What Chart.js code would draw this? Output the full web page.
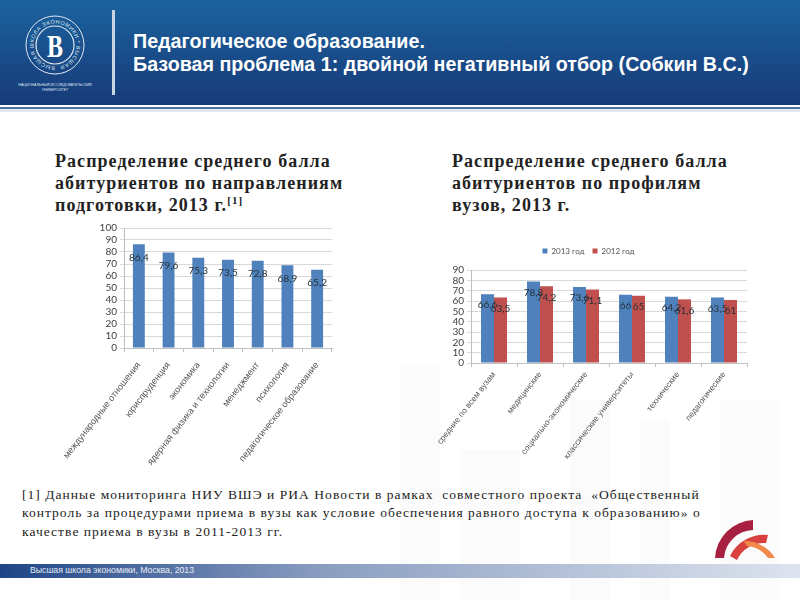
<!DOCTYPE html>
<html lang="ru">
<head>
<meta charset="utf-8">
<title>Педагогическое образование</title>
<script src="https://cdn.jsdelivr.net/npm/chart.js@4"></script>
<style>
  html, body { margin: 0; padding: 0; background: #fff; }
  #slide { position: relative; width: 800px; height: 600px; overflow: hidden; background: #fff; }
  #slide > * { position: absolute; }
  #watermark { left: 0; top: 0; }
  #header { left: 0; top: 0; width: 800px; height: 105px; background: linear-gradient(#1b639f, #173a78); }
  #rule1 { left: 0; top: 107px; width: 800px; height: 2px; background: #4f6f9f; }
  #rule2 { left: 0; top: 109px; width: 800px; height: 3px; background: #dfe7f0; }
  #logo { left: 0; top: 0; }
  #divider { left: 112px; top: 10px; width: 3px; height: 85px; background: #c8d4e4; }
  .title { left: 133px; color: #fff; font: bold 19.7px "Liberation Sans", sans-serif; white-space: nowrap; }
  .head { color: #222; font: bold 18px/22px "Liberation Serif", serif; letter-spacing: 1.05px; white-space: nowrap; }
  .head sup { font-size: 11px; line-height: 0; }
  .note { left: 22px; color: #222; font: 13.5px "Liberation Serif", serif; letter-spacing: 1.04px; white-space: nowrap; }
  #footer { left: 0; top: 564px; width: 800px; height: 14px; background: linear-gradient(90deg, #1e4587, #8a9dc0 40%, #dde3ee); }
  #footerText { left: 30px; top: 565px; color: #e8edf5; font: 8.7px "Liberation Sans", sans-serif; white-space: nowrap; }
  canvas { position: absolute; }
</style>
</head>
<body>
<div id="slide">
  <svg id="watermark" width="800" height="600">
    <g fill="#fbfbfb">
      <rect x="400" y="365" width="40" height="235"/>
      <rect x="570" y="400" width="40" height="200"/>
      <rect x="640" y="420" width="30" height="180"/>
      <rect x="720" y="400" width="60" height="200"/>
      <rect x="460" y="450" width="60" height="150"/>
    </g>
  </svg>
  <div id="header"></div>
  <div id="rule1"></div>
  <div id="rule2"></div>
  <svg id="logo" width="112" height="100">
    <defs><path id="ring" d="M55 66.5 a21.5 21.5 0 1 1 0.01 0"/></defs>
    <circle cx="55" cy="45" r="29" fill="none" stroke="#dfe7f0" stroke-width="1"/>
    <circle cx="55" cy="45" r="19" fill="none" stroke="#dfe7f0" stroke-width="1.2"/>
    <text font-family="Liberation Sans" font-size="5.4" fill="#dfe7f0" letter-spacing="0.6"><textPath href="#ring">ВЫСШАЯ ШКОЛА ЭКОНОМИКИ * ВЫСШАЯ</textPath></text>
    <text transform="translate(55 57) scale(0.75 1)" text-anchor="middle" font-family="Liberation Serif" font-weight="bold" font-size="32" fill="#fff">В</text>
    <text x="55" y="86" text-anchor="middle" font-family="Liberation Sans" font-size="3.6" fill="#dfe7f0">НАЦИОНАЛЬНЫЙ ИССЛЕДОВАТЕЛЬСКИЙ</text>
    <text x="55" y="91" text-anchor="middle" font-family="Liberation Sans" font-size="3.6" fill="#dfe7f0">УНИВЕРСИТЕТ</text>
  </svg>
  <div id="divider"></div>
  <div class="title" style="top:30px">Педагогическое образование.</div>
  <div class="title" style="top:53px">Базовая проблема 1: двойной негативный отбор (Собкин В.С.)</div>

  <div class="head" style="left:55px;top:150px">Распределение среднего балла<br>абитуриентов по направлениям<br>подготовки, 2013 г.<sup>[1]</sup></div>
  <div class="head" style="left:452px;top:150px">Распределение среднего балла<br>абитуриентов по профилям<br>вузов, 2013 г.</div>

  <canvas id="leftChart" width="300" height="270" style="left:50px;top:215px;width:300px;height:270px"></canvas>
  <canvas id="rightChart" width="334" height="241" style="left:430px;top:239px;width:334px;height:241px"></canvas>

  <div class="note" style="top:487px">[1] Данные мониторинга НИУ ВШЭ и РИА Новости в рамках&nbsp; совместного проекта&nbsp; «Общественный</div>
  <div class="note" style="top:505px">контроль за процедурами приема в вузы как условие обеспечения равного доступа к образованию» о</div>
  <div class="note" style="top:524px">качестве приема в вузы в 2011-2013 гг.</div>

  <svg style="left:700px;top:510px" width="90" height="60">
    <path d="M15 48 A40 40 0 0 1 53 10 L53 20 A30 30 0 0 0 24 48 Z" fill="#a8203f"/>
    <path d="M30 46 A38 38 0 0 1 68 25 L66 33 A30 30 0 0 0 37 50 Z" fill="#d9413f"/>
    <path d="M44 31 A36 36 0 0 1 75 48 L68 48 A28 28 0 0 0 47 36 Z" fill="#f08a4b"/>
  </svg>

  <div id="footer"></div>
  <div id="footerText">Высшая школа экономики, Москва, 2013</div>
</div>

<script>
const directionLabels = ["международные отношения", "юриспруденция", "экономика", "ядерная физика и технологии", "менеджмент", "психология", "педагогическое образование"];
const directionValues = [86.4, 79.6, 75.3, 73.5, 72.8, 68.9, 65.2];

const profileLabels = ["средние по всем вузам", "медицинские", "социально-экономические", "классические университеты", "технические", "педагогические"];
const values2013 = [66.6, 78.8, 73.6, 66, 64.2, 63.5];
const values2012 = [63.5, 74.2, 71.1, 65, 61.6, 61];

const BLUE = "#4f81bd";
const RED = "#c0504d";
const NARROW = "Lato";

// Value labels sit just under the bar top, same as the Excel originals
const barLabels = {
  id: "barLabels",
  afterDatasetsDraw(chart, args, opts) {
    const ctx = chart.ctx;
    ctx.save();
    ctx.font = `10px '${NARROW}'`;
    ctx.fillStyle = "#263238";
    ctx.textAlign = "center";
    ctx.textBaseline = "middle";
    chart.data.datasets.forEach((ds, i) => {
      chart.getDatasetMeta(i).data.forEach((bar, j) => {
        ctx.fillText(String(ds.data[j]).replace(".", ","), bar.x, bar.y + opts.offset);
      });
    });
    ctx.restore();
  },
};

// Extra gap under the legend without widening the space between its items
const legendGap = {
  id: "legendGap",
  beforeLayout(chart) {
    const legend = chart.legend;
    const fit = legend.fit;
    legend.fit = function () {
      fit.call(this);
      this.height += 5;
    };
  },
};

const makeScales = (yMax, yWidth, xHeight, labelSize, labelPad) => ({
  x: {
    grid: { drawOnChartArea: false, color: "#bfbfbf", tickLength: 4 },
    border: { color: "#bfbfbf" },
    ticks: { autoSkip: false, minRotation: 52, maxRotation: 52, color: "#555", font: { family: "Liberation Sans", size: labelSize }, padding: labelPad },
    afterFit(scale) {
      scale.height = xHeight;
      scale.paddingLeft = 0;
      scale.paddingRight = 0;
    },
  },
  y: {
    min: 0,
    max: yMax,
    grid: { color: "#d9d9d9", tickLength: 4 },
    border: { color: "#bfbfbf" },
    ticks: { stepSize: 10, autoSkip: false, color: "#404040", font: { family: NARROW, size: 10 }, padding: 3 },
    afterFit(scale) {
      scale.width = yWidth;
      scale.paddingTop = 0;
      scale.paddingBottom = 0;
    },
  },
});

new Chart(document.getElementById("leftChart"), {
  type: "bar",
  plugins: [barLabels],
  data: {
    labels: directionLabels,
    datasets: [
      { data: directionValues, backgroundColor: BLUE, categoryPercentage: 1, barPercentage: 0.4 },
    ],
  },
  options: {
    responsive: false,
    animation: false,
    layout: { padding: { top: 13, right: 18, left: 0, bottom: 0 } },
    plugins: { legend: { display: false }, tooltip: { enabled: false }, barLabels: { offset: 13 } },
    scales: makeScales(100, 74, 137, 9.2, 8),
  },
});

new Chart(document.getElementById("rightChart"), {
  type: "bar",
  plugins: [barLabels, legendGap],
  data: {
    labels: profileLabels,
    datasets: [
      { label: "2013 год", data: values2013, backgroundColor: BLUE, categoryPercentage: 0.565, barPercentage: 1 },
      { label: "2012 год", data: values2012, backgroundColor: RED, categoryPercentage: 0.565, barPercentage: 1 },
    ],
  },
  options: {
    responsive: false,
    animation: false,
    layout: { padding: { top: 0, right: 17, left: 0, bottom: 0 } },
    plugins: {
      legend: {
        position: "top",
        labels: { boxWidth: 5, boxHeight: 5, padding: 8, color: "#555", font: { family: NARROW, size: 8 } },
      },
      tooltip: { enabled: false },
      barLabels: { offset: 11 },
    },
    scales: makeScales(90, 41, 117, 8.3, 3),
  },
});
</script>
</body>
</html>
